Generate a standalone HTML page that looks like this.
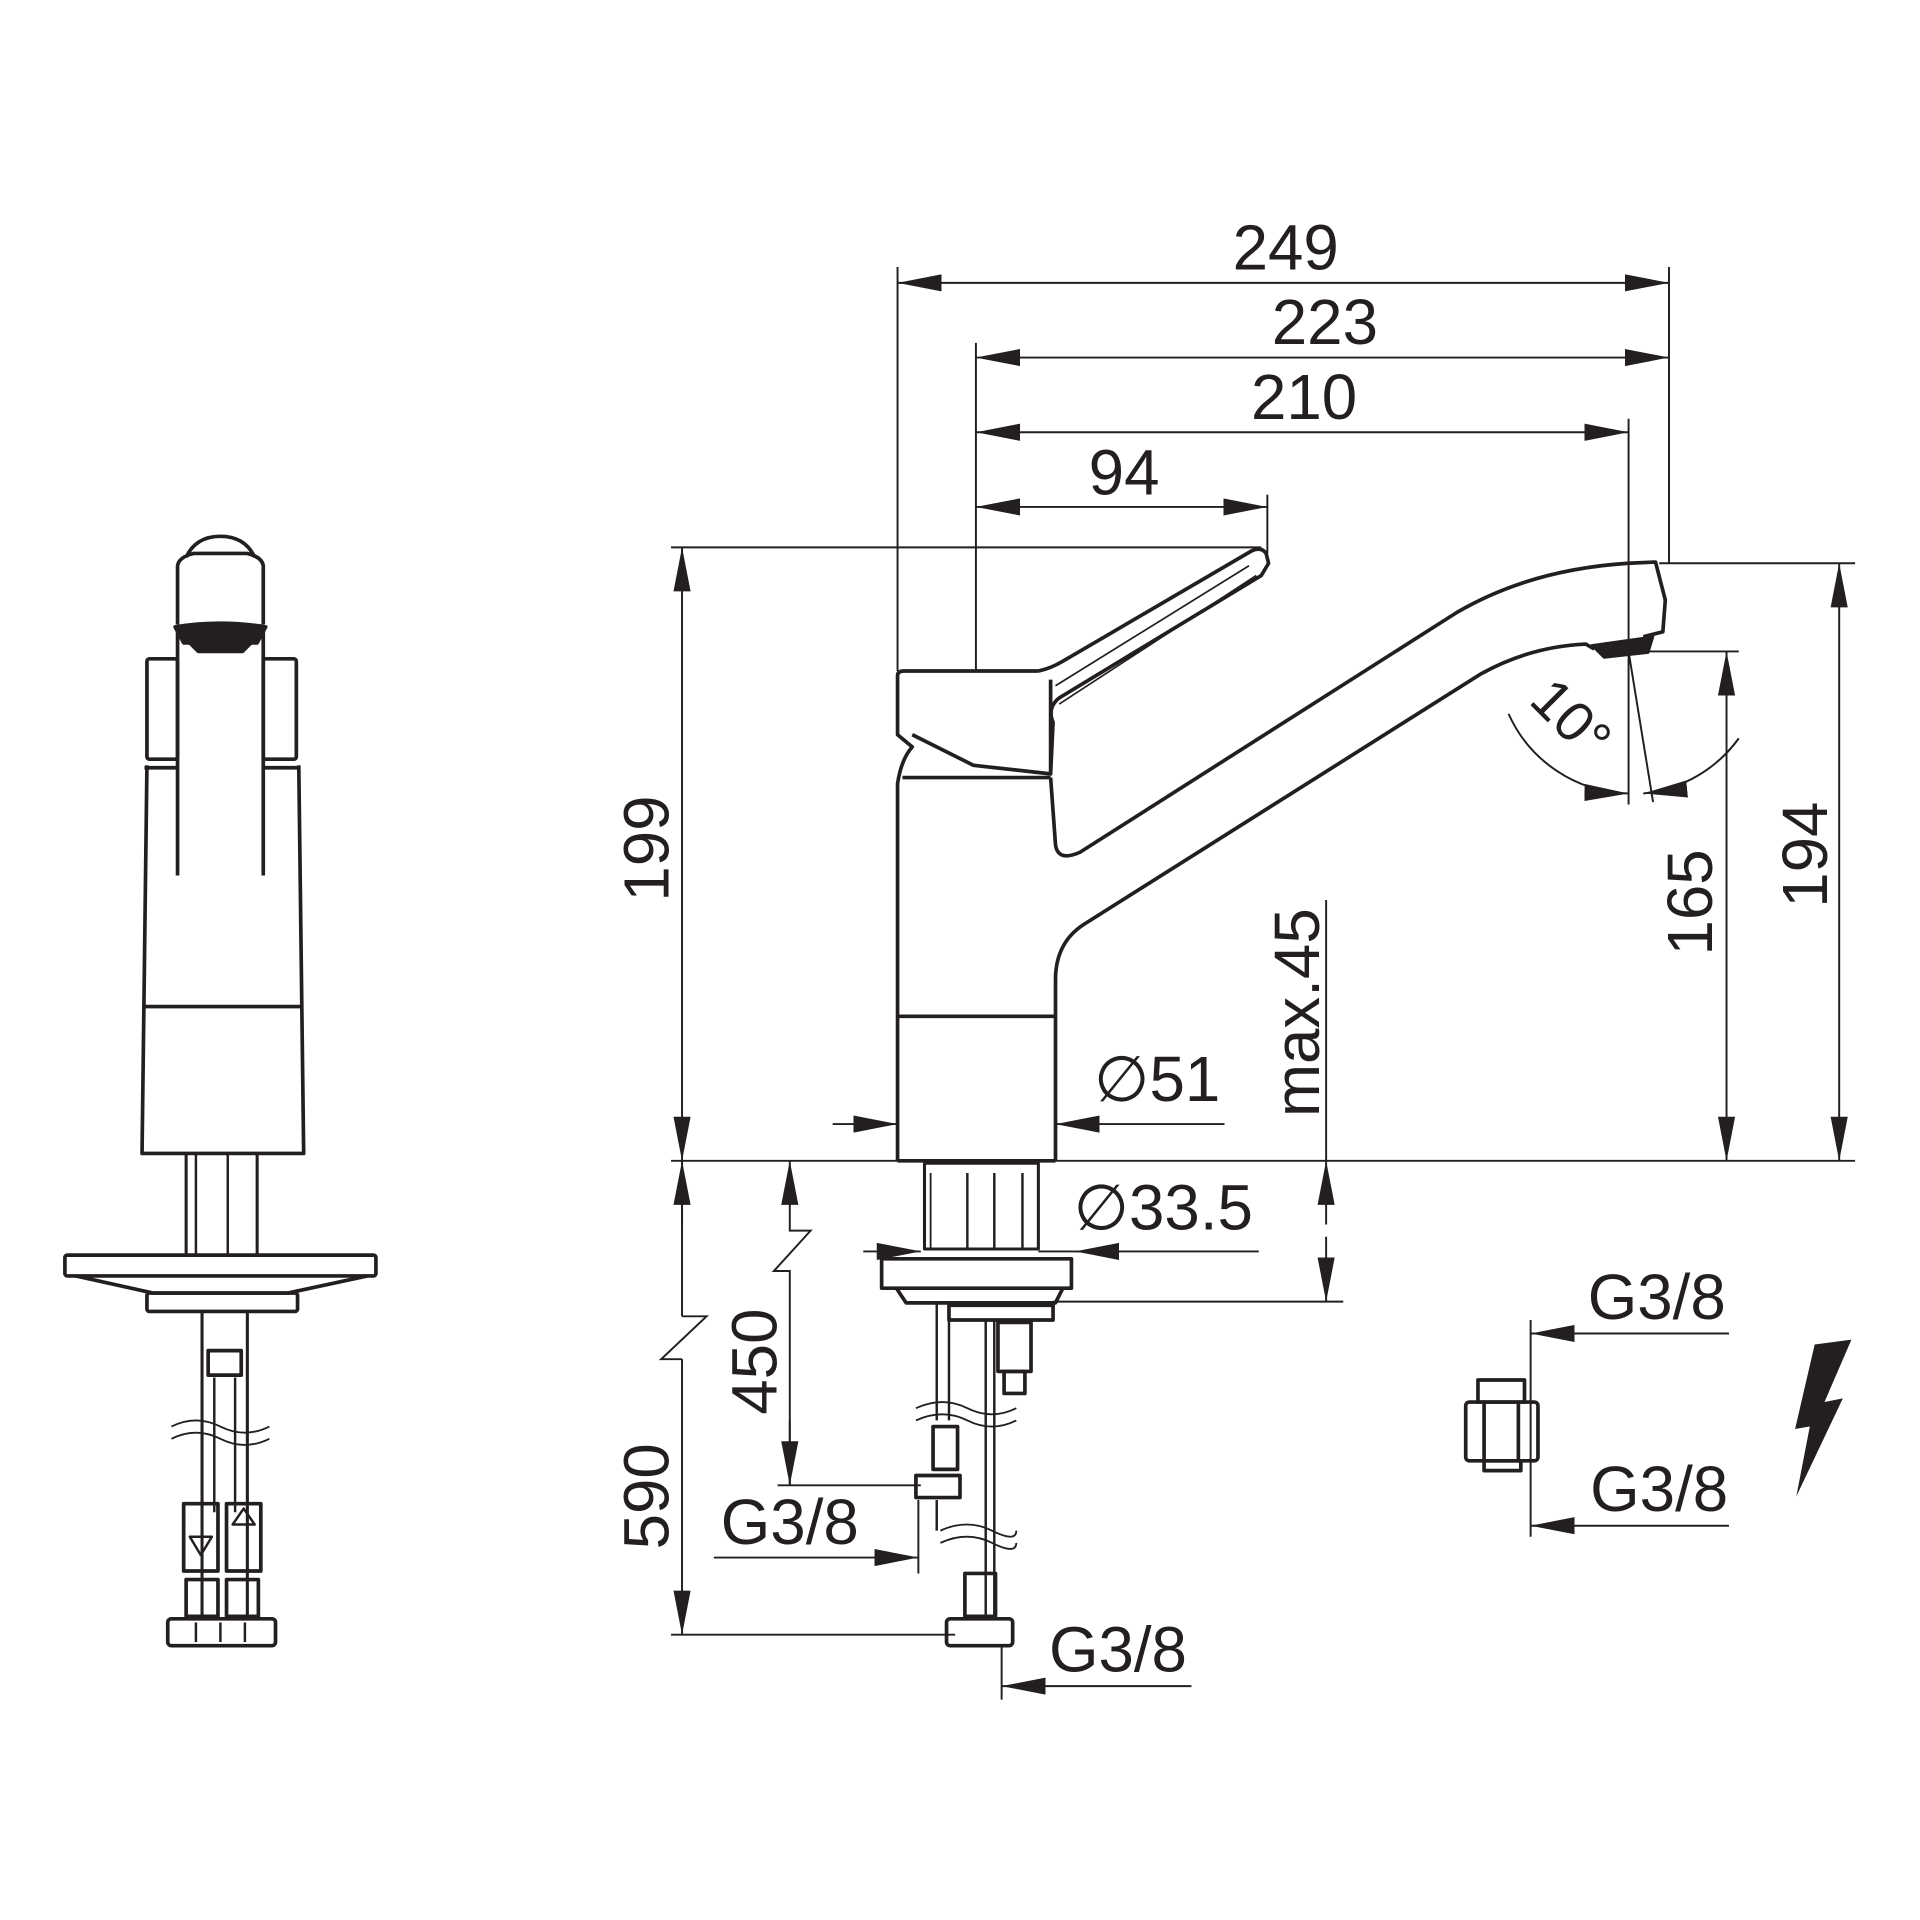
<!DOCTYPE html>
<html><head><meta charset="utf-8"><style>
html,body{margin:0;padding:0;background:#fff;}
svg{display:block;}
text{font-family:"Liberation Sans",sans-serif;fill:#231f20;}
</style></head><body>
<svg width="1920" height="1920" viewBox="0 0 1568 1568" xmlns="http://www.w3.org/2000/svg">
<defs>
<marker id="a" viewBox="0 0 10 10" refX="10" refY="5" markerWidth="36" markerHeight="14" markerUnits="userSpaceOnUse" preserveAspectRatio="none" orient="auto-start-reverse">
<path d="M0,0 L10,5 L0,10 Z" fill="#231f20"/></marker>
</defs>
<g stroke="#231f20" stroke-width="1.6" fill="none">
<line x1="733" y1="231" x2="1363" y2="231" marker-start="url(#a)" marker-end="url(#a)"/>
<line x1="797" y1="292" x2="1363" y2="292" marker-start="url(#a)" marker-end="url(#a)"/>
<line x1="797" y1="353" x2="1330" y2="353" marker-start="url(#a)" marker-end="url(#a)"/>
<line x1="797" y1="414" x2="1035" y2="414" marker-start="url(#a)" marker-end="url(#a)"/>
<line x1="733" y1="218" x2="733" y2="548"/>
<line x1="797" y1="280" x2="797" y2="548"/>
<line x1="1363" y1="218" x2="1363" y2="460"/>
<line x1="1330" y1="342" x2="1330" y2="657"/>
<line x1="1035" y1="404" x2="1035" y2="452"/>
<line x1="548" y1="447" x2="1030" y2="447"/>
<line x1="557" y1="447" x2="557" y2="948" marker-start="url(#a)" marker-end="url(#a)"/>
<line x1="548" y1="948" x2="1515" y2="948"/>
<line x1="1355" y1="460" x2="1515" y2="460"/>
<line x1="1502" y1="460" x2="1502" y2="948" marker-start="url(#a)" marker-end="url(#a)"/>
<line x1="1340" y1="532" x2="1420" y2="532"/>
<line x1="1410" y1="532" x2="1410" y2="948" marker-start="url(#a)" marker-end="url(#a)"/>
<line x1="1083" y1="735" x2="1083" y2="948"/>
<line x1="680" y1="918" x2="733" y2="918" marker-end="url(#a)"/>
<line x1="1000" y1="918" x2="862" y2="918" marker-end="url(#a)"/>
<line x1="1330" y1="532" x2="1350" y2="655"/>
<path d="M1232,583 A110,110 0 0 0 1330,648" marker-end="url(#a)"/>
<path d="M1420,603 A110,110 0 0 1 1342,648" marker-end="url(#a)"/>
<line x1="557" y1="948" x2="557" y2="1075"/>
<polyline points="557,1075 577,1075 540,1110 557,1110"/>
<line x1="557" y1="1110" x2="557" y2="1335" marker-end="url(#a)"/>
<line x1="557" y1="1000" x2="557" y2="948" marker-end="url(#a)"/>
<line x1="548" y1="1335" x2="780" y2="1335"/>
<line x1="645" y1="1000" x2="645" y2="948" marker-end="url(#a)"/>
<polyline points="645,1000 645,1005 662,1005 632,1038 645,1038 645,1213" />
<line x1="645" y1="1160" x2="645" y2="1213" marker-end="url(#a)"/>
<line x1="635" y1="1213" x2="752" y2="1213"/>
<line x1="583" y1="1272" x2="750" y2="1272" marker-end="url(#a)"/>
<line x1="750" y1="1225" x2="750" y2="1285"/>
<line x1="973" y1="1377" x2="818" y2="1377" marker-end="url(#a)"/>
<line x1="818" y1="1345" x2="818" y2="1388"/>
<line x1="705" y1="1022" x2="752" y2="1022" marker-end="url(#a)"/>
<line x1="1028" y1="1022" x2="848" y2="1022"/>
<line x1="915" y1="1022" x2="878" y2="1022" marker-end="url(#a)"/>
<line x1="1083" y1="1000" x2="1083" y2="948" marker-end="url(#a)"/>
<line x1="1083" y1="1010" x2="1083" y2="1063" marker-end="url(#a)"/>
<line x1="860" y1="1063" x2="1097" y2="1063"/>
<line x1="1250" y1="1078" x2="1250" y2="1255"/>
<line x1="1412" y1="1089" x2="1250" y2="1089" marker-end="url(#a)"/>
<line x1="1412" y1="1246" x2="1250" y2="1246" marker-end="url(#a)"/>
</g>

<g stroke="#231f20" stroke-width="3" fill="none" stroke-linejoin="round">
<path d="M733,948 L733,640 Q736,620 745,610 L733,600 L733,552 Q733,548 738,548 L848,548"/>
<path d="M745,600 L795,625 L858,632 L858,555"/>
<path d="M848,548 Q858,546 868,540 L1022,450 Q1030,446 1034,452 L1036,460 L1030,470 L865,570 Q855,578 860,590 L858,632"/>
<path d="M862,560 L1020,462 M865,575 L1026,470" stroke-width="1.4"/>
<path d="M737,635 L858,635"/>
<line x1="733" y1="830" x2="862" y2="830"/>
<line x1="733" y1="948" x2="862" y2="948"/>
<path d="M858,635 L862,690 Q864,704 882,696 L1190,500 Q1250,465 1330,460 L1352,459 L1360,490 L1358,516 L1342,520"/>
<path d="M862,948 L862,800 Q862,770 885,755 L1210,550 Q1250,528 1295,526 L1302,530"/>
<path d="M1300,527 L1350,520 L1346,533 L1310,537 Z" fill="#231f20" stroke-width="2"/>
<path d="M755,950 L848,950 L848,1020 L755,1020 Z" stroke-width="2.5"/>
<line x1="760" y1="958" x2="760" y2="1020" stroke-width="1.5"/>
<line x1="790" y1="958" x2="790" y2="1020" stroke-width="2"/>
<line x1="812" y1="958" x2="812" y2="1020" stroke-width="2"/>
<line x1="835" y1="958" x2="835" y2="1020" stroke-width="2"/>
<rect x="720" y="1028" width="155" height="24"/>
<path d="M732,1052 L740,1064 L862,1064 L868,1052"/>
<rect x="775" y="1066" width="85" height="12"/>
<line x1="765" y1="1064" x2="765" y2="1160" stroke-width="2"/>
<line x1="775" y1="1064" x2="775" y2="1160" stroke-width="2"/>
<line x1="805" y1="1078" x2="805" y2="1320" stroke-width="2"/>
<line x1="812" y1="1078" x2="812" y2="1320" stroke-width="2"/>
<rect x="815" y="1080" width="27" height="40"/>
<rect x="820" y="1120" width="17" height="18"/>
<path d="M748,1150 Q770,1140 790,1150 T830,1150 M748,1160 Q770,1150 790,1160 T830,1160" stroke-width="1.5"/>
<rect x="762" y="1165" width="20" height="35"/>
<rect x="748" y="1205" width="36" height="18"/>
<line x1="765" y1="1225" x2="765" y2="1250" stroke-width="2"/>
<path d="M768,1250 Q790,1240 810,1250 T830,1250 M768,1260 Q790,1250 810,1260 T830,1260" stroke-width="1.5"/>
<rect x="788" y="1285" width="25" height="35"/>
<rect x="773" y="1322" width="54" height="22" rx="3"/>
<rect x="1207" y="1127" width="38" height="18"/>
<rect x="1197" y="1145" width="59" height="48" rx="3"/>
<line x1="1212" y1="1145" x2="1212" y2="1193"/><line x1="1240" y1="1145" x2="1240" y2="1193"/>
<rect x="1212" y="1193" width="30" height="8"/>
</g>
<path d="M1482,1098 L1512,1094 L1490,1145 L1505,1142 L1467,1222 L1478,1165 L1466,1167 Z" fill="#231f20"/>

<g stroke="#231f20" stroke-width="3" fill="none" stroke-linejoin="round">
<path d="M152,455 Q160,438 180,438 Q200,438 208,455"/>
<path d="M145,510 L145,462 Q146,455 158,452 L202,452 Q214,455 215,462 L215,510"/>
<path d="M143,512 Q180,506 217,512 L210,525 L150,525 Z" fill="#231f20"/>
<path d="M155,525 L205,525 L198,532 L162,532 Z" fill="#231f20"/>
<path d="M145,512 L145,715 M215,512 L215,715"/>
<rect x="120" y="538" width="25" height="82" rx="2"/>
<rect x="215" y="538" width="27" height="82" rx="2"/>
<path d="M118,627 L145,627 M215,627 L245,627"/>
<path d="M120,625 L116,942 L248,942 L244,625"/>
<line x1="117" y1="822" x2="246" y2="822"/>
<line x1="152" y1="942" x2="152" y2="1025" stroke-width="2.5"/>
<line x1="160" y1="942" x2="160" y2="1025" stroke-width="2"/>
<line x1="186" y1="942" x2="186" y2="1025" stroke-width="2"/>
<line x1="210" y1="942" x2="210" y2="1025" stroke-width="2.5"/>
<rect x="53" y="1025" width="254" height="17" rx="2"/>
<path d="M62,1042 L125,1056 L235,1056 L300,1042"/>
<rect x="120" y="1056" width="123" height="15" rx="2"/>
<line x1="165" y1="1071" x2="165" y2="1320" stroke-width="2.5"/>
<line x1="202" y1="1071" x2="202" y2="1320" stroke-width="2.5"/>
<rect x="170" y="1103" width="27" height="20"/>
<line x1="175" y1="1125" x2="175" y2="1235" stroke-width="2"/>
<line x1="192" y1="1125" x2="192" y2="1235" stroke-width="2"/>
<path d="M140,1165 Q160,1155 180,1165 T220,1165 M140,1175 Q160,1165 180,1175 T220,1175" stroke-width="1.5"/>
<rect x="150" y="1228" width="28" height="55"/>
<rect x="185" y="1228" width="28" height="55"/>
<path d="M155,1255 L173,1255 L164,1270 Z M190,1245 L208,1245 L199,1232 Z" stroke-width="2"/>
<rect x="152" y="1290" width="26" height="30"/>
<rect x="185" y="1290" width="26" height="30"/>
<rect x="137" y="1322" width="88" height="22" rx="3"/>
<line x1="160" y1="1325" x2="160" y2="1341" stroke-width="2"/><line x1="180" y1="1325" x2="180" y2="1341" stroke-width="2"/><line x1="200" y1="1325" x2="200" y2="1341" stroke-width="2"/>
</g>

<g font-size="52" text-anchor="middle">
<text x="1050" y="220">249</text>
<text x="1082" y="281">223</text>
<text x="1065" y="342">210</text>
<text x="918" y="404">94</text>
<text transform="translate(546,693) rotate(-90)">199</text>
<text transform="translate(1492,698) rotate(-90)">194</text>
<text transform="translate(1398,737) rotate(-90)">165</text>
<text transform="translate(1077,827) rotate(-90)">max.45</text>
<text transform="translate(546,1222) rotate(-90)">590</text>
<text transform="translate(634,1112) rotate(-90)">450</text>
<text x="945" y="899">∅51</text>
<text x="950" y="1004">∅33.5</text>
<text x="645" y="1261">G3/8</text>
<text x="913" y="1365">G3/8</text>
<text x="1353" y="1077">G3/8</text>
<text x="1355" y="1234">G3/8</text>
<text transform="translate(1272,598) rotate(45)" font-size="46">10°</text>
</g>
</svg>
</body></html>
